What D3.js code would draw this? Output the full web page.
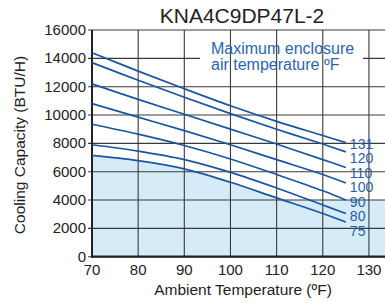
<!DOCTYPE html>
<html>
<head>
<meta charset="UTF-8">
<title>KNA4C9DP47L-2</title>
<style>
  body { margin: 0; background: #fff; }
  text { font-family: "Liberation Sans", Arial, sans-serif; }
</style>
</head>
<body>
<script src="https://cdn.jsdelivr.net/npm/d3@7/dist/d3.min.js"></script>
<script>
// ambient temperature (F) where each curve was read
const temps = [70, 80, 90, 100, 110, 120, 125];
// curve labels = max enclosure air temperature (F)
const curveNames = ["131", "120", "110", "100", "90", "80", "75"];
// cooling capacity BTU/H, one array per curve
const cap131 = [14400, 13100, 11850, 10650, 9550, 8550, 8050];
const cap120 = [13700, 12450, 11250, 10100, 9000, 7950, 7400];
const cap110 = [12200, 11100, 10050, 9000, 7950, 6850, 6300];
const cap100 = [10800, 9850, 8900, 7900, 6850, 5800, 5200];
const cap90  = [9350, 8650, 7850, 6900, 5800, 4650, 4000];
const cap80  = [7900, 7450, 6850, 5950, 4850, 3650, 3050];
const cap75  = [7150, 6780, 6200, 5250, 4150, 3050, 2450];
const curves = [cap131, cap120, cap110, cap100, cap90, cap80, cap75];
// shaded zone: under the 75 curve and below this level
const shadeLevel = 4000;

const xTicks = [70, 80, 90, 100, 110, 120, 130];
const yTicks = [0, 2000, 4000, 6000, 8000, 10000, 12000, 14000, 16000];

const width = 385, height = 303;
const svg = d3.select("body").append("svg")
  .attr("width", width)
  .attr("height", height);

const x = d3.scaleLinear().domain([70, 135]).range([92, 392]);
const y = d3.scaleLinear().domain([0, 16000]).range([256.7, 30]);

const blue = "#1a559f";

// shading
const line = d3.line()
  .x(d => x(d[0]))
  .y(d => y(d[1]))
  .curve(d3.curveCatmullRom);
const area = d3.area()
  .x(d => x(d[0]))
  .y0(y(0))
  .y1(d => y(d[1]))
  .curve(d3.curveCatmullRom);

svg.append("path")
  .datum(temps.map((t, i) => [t, cap75[i]]))
  .attr("d", area)
  .attr("fill", "#d5ebf8");
svg.append("rect")
  .attr("x", x(70))
  .attr("y", y(shadeLevel))
  .attr("width", width - x(70))
  .attr("height", y(0) - y(shadeLevel))
  .attr("fill", "#d5ebf8");

// horizontal grid
svg.append("g")
  .selectAll("line")
  .data(yTicks)
  .join("line")
  .attr("x1", x(70) - 4)
  .attr("x2", width)
  .attr("y1", d => y(d))
  .attr("y2", d => y(d))
  .attr("stroke", "#3a3a3a")
  .attr("stroke-width", 1.1);

// white gap behind legend text
svg.append("rect")
  .attr("x", 200).attr("y", 50)
  .attr("width", 163).attr("height", 16)
  .attr("fill", "#fff");

// vertical grid
svg.append("g")
  .selectAll("line")
  .data(xTicks.slice(1))
  .join("line")
  .attr("x1", d => x(d))
  .attr("x2", d => x(d))
  .attr("y1", y(16000))
  .attr("y2", y(0))
  .attr("stroke", "#3a3a3a")
  .attr("stroke-width", 1.1);

// axes lines
svg.append("line")
  .attr("x1", x(70)).attr("x2", x(70))
  .attr("y1", y(16000)).attr("y2", y(0) + 1)
  .attr("stroke", "#222").attr("stroke-width", 2);
svg.append("line")
  .attr("x1", x(70) - 1).attr("x2", width)
  .attr("y1", y(0)).attr("y2", y(0))
  .attr("stroke", "#222").attr("stroke-width", 2.2);

// curves
svg.append("g")
  .selectAll("path")
  .data(curves)
  .join("path")
  .attr("d", c => line(temps.map((t, i) => [t, c[i]])))
  .attr("fill", "none")
  .attr("stroke", blue)
  .attr("stroke-width", 1.7);

// curve labels, pushed apart so they don't overlap
let prev = -Infinity;
const labelY = curves.map(c => {
  const v = Math.max(y(c[c.length - 1]) + 6, prev + 14.5);
  prev = v;
  return v;
});
svg.append("g")
  .selectAll("text")
  .data(curveNames)
  .join("text")
  .attr("x", x(125) + 4)
  .attr("y", (d, i) => labelY[i])
  .attr("font-size", 14)
  .attr("fill", "#2560a8")
  .text(d => d);

// tick labels
svg.append("g")
  .selectAll("text")
  .data(yTicks)
  .join("text")
  .attr("x", 86)
  .attr("y", d => y(d) + 5)
  .attr("text-anchor", "end")
  .attr("font-size", 15)
  .attr("fill", "#222")
  .text(d => d);
svg.append("g")
  .selectAll("text")
  .data(xTicks)
  .join("text")
  .attr("x", d => x(d))
  .attr("y", 275)
  .attr("text-anchor", "middle")
  .attr("font-size", 15)
  .attr("fill", "#222")
  .text(d => d);

// titles
svg.append("text")
  .attr("x", 242).attr("y", 23)
  .attr("text-anchor", "middle")
  .attr("font-size", 21)
  .attr("fill", "#222")
  .text("KNA4C9DP47L-2");
svg.append("text")
  .attr("x", 243).attr("y", 295)
  .attr("text-anchor", "middle")
  .attr("font-size", 15.5)
  .attr("fill", "#222")
  .text("Ambient Temperature (ºF)");
svg.append("text")
  .attr("transform", "translate(25,145) rotate(-90)")
  .attr("text-anchor", "middle")
  .attr("font-size", 15.5)
  .attr("fill", "#222")
  .text("Cooling Capacity (BTU/H)");

// legend note
const note = svg.append("text")
  .attr("font-size", 16)
  .attr("fill", "#2a66b0");
note.append("tspan").attr("x", 211).attr("y", 54).text("Maximum enclosure");
note.append("tspan").attr("x", 211).attr("y", 70).text("air temperature ºF");
</script>
</body>
</html>
